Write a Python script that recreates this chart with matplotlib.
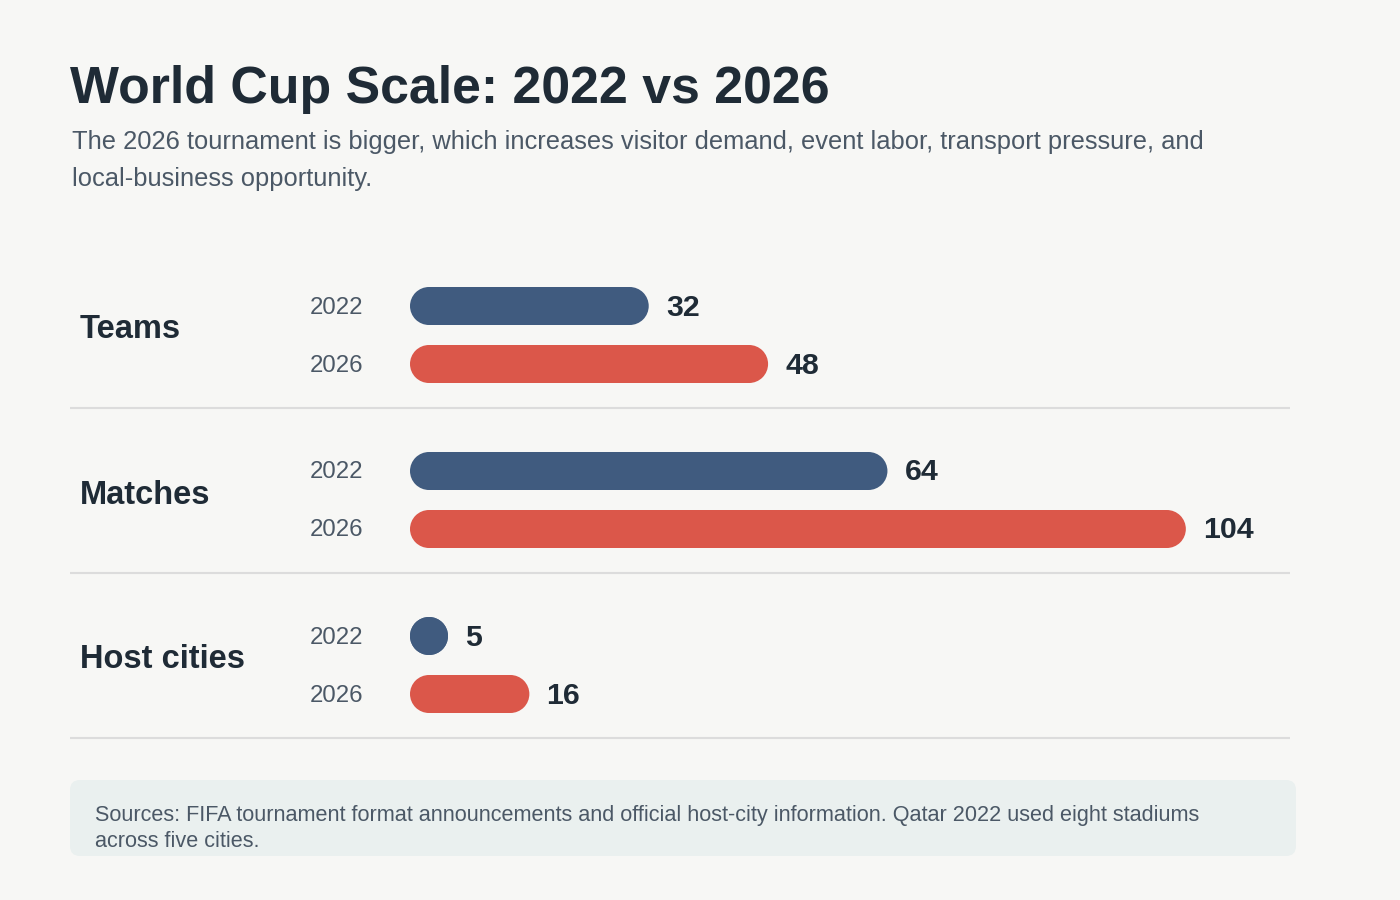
import matplotlib
matplotlib.use("Agg")
import matplotlib.pyplot as plt
from matplotlib.patches import FancyBboxPatch, Rectangle, Ellipse
from matplotlib.transforms import blended_transform_factory

# ---- data ----
categories = ["Teams", "Matches", "Host cities"]
years = ["2022", "2026"]
values_2022 = [32, 64, 5]
values_2026 = [48, 104, 16]

title = "World Cup Scale: 2022 vs 2026"
subtitle_lines = [
    "The 2026 tournament is bigger, which increases visitor demand, event labor, transport pressure, and",
    "local-business opportunity.",
]
footnote_lines = [
    "Sources: FIFA tournament format announcements and official host-city information. Qatar 2022 used eight stadiums",
    "across five cities.",
]

# ---- style ----
BG = "#F7F7F5"
BLUE = "#405B7F"
RED = "#DB574A"
DARK = "#1F2B36"
GRAY = "#4B5866"
SEP = "#DCDCDC"
BOX = "#EAF0EF"
FONT = "Liberation Sans"

W, H = 1400, 900
fig = plt.figure(figsize=(W / 100, H / 100), dpi=100, facecolor=BG)

# bar axes: x in value units, y in pixel units (top = 0)
ax_left, ax_right = 410, 1290
px_per_unit = 7.46
ax = fig.add_axes([ax_left / W, 0, (ax_right - ax_left) / W, 1])
ax.set_xlim(0, (ax_right - ax_left) / px_per_unit)
ax.set_ylim(H, 0)
ax.axis("off")
ax.patch.set_alpha(0)

bar_h = 38
group_centers = [335, 500, 665]
offset = 29
cap = bar_h / px_per_unit  # bar height expressed in value units

fig_px = blended_transform_factory(fig.transFigure, ax.transData)


def pill(x_end, yc, color):
    w = max(x_end, cap)
    r = cap / 2
    ax.add_patch(Rectangle((r, yc - bar_h / 2), w - cap, bar_h,
                           facecolor=color, edgecolor="none", antialiased=True))
    for cx in (r, w - r):
        ax.add_patch(Ellipse((cx, yc), cap, bar_h, facecolor=color, edgecolor="none"))
    return w


for gi, cat in enumerate(categories):
    gc = group_centers[gi]
    ax.text(80 / W, gc - 5, cat, transform=fig_px, fontsize=23.5, fontweight="bold",
            color=DARK, family=FONT, va="center", ha="left")
    for yi, (yr, vals, col) in enumerate(zip(years, [values_2022, values_2026], [BLUE, RED])):
        v = vals[gi]
        yc = gc - offset if yi == 0 else gc + offset
        w = pill(v, yc, col)
        ax.text(310 / W, yc + 1.5, yr, transform=fig_px, fontsize=17.3, color=GRAY,
                family=FONT, va="center", ha="left")
        ax.annotate(str(v), xy=(w, yc + 1.5), xytext=(12.3, 0), textcoords="offset points",
                    fontsize=21.8, fontweight="bold", color=DARK, family=FONT,
                    va="center", ha="left")
    sep_y = gc + 73
    ax.plot([70 / W, 1290 / W], [sep_y, sep_y], transform=fig_px, color=SEP,
            lw=1.5, clip_on=False, solid_capstyle="butt")

# title & subtitle
fig.text(70 / W, 1 - 103 / H, title, fontsize=37.4, fontweight="bold", color=DARK,
         family=FONT, va="baseline", ha="left")
for i, line in enumerate(subtitle_lines):
    fig.text(72 / W, 1 - (149 + 37 * i) / H, line, fontsize=18.4, color=GRAY,
             family=FONT, va="baseline", ha="left")

# footnote box
box = FancyBboxPatch((0.70, (H - 856) / 100), 12.26, 0.76,
                     boxstyle="round,pad=0,rounding_size=0.1",
                     transform=fig.dpi_scale_trans, facecolor=BOX, edgecolor="none")
fig.add_artist(box)
for i, line in enumerate(footnote_lines):
    fig.text(95 / W, 1 - (821 + 26 * i) / H, line, fontsize=15.6, color=GRAY,
             family=FONT, va="baseline", ha="left")

fig.savefig("out.png", dpi=100, facecolor=BG)
